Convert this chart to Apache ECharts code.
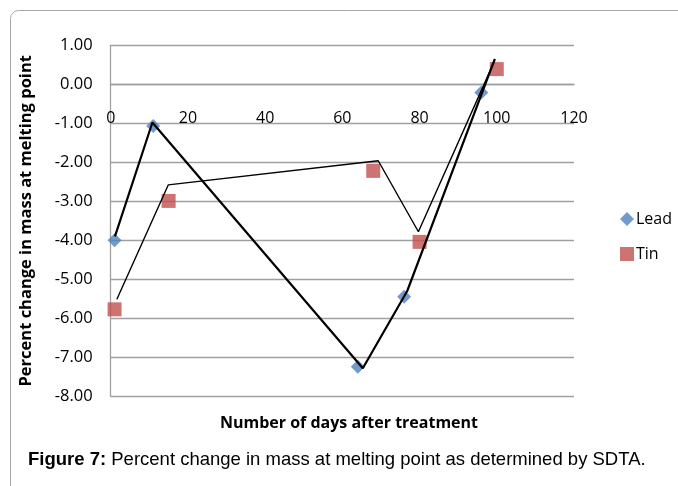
<!DOCTYPE html>
<html>
<head>
<meta charset="utf-8">
<script src="https://cdn.jsdelivr.net/npm/echarts@6/dist/echarts.min.js"></script>
<style>
html,body{margin:0;padding:0;background:#fff;}
#chart{width:678px;height:486px;}
</style>
</head>
<body>
<div id="chart"></div>
<script>
// Scatter data
var leadX = [1, 11, 64, 76, 96];
var leadY = [-4.00, -1.07, -7.24, -5.45, -0.21];
var tinX = [1, 15, 68, 80, 100];
var tinY = [-5.77, -2.99, -2.22, -4.04, 0.39];
// Black connecting (trend) lines as drawn in the figure
var leadLineX = [1.1, 10.8, 65.3, 76.8, 99.5];
var leadLineY = [-3.90, -0.98, -7.28, -5.30, 0.65];
var tinLineX = [1.6, 14.9, 69.3, 79.7, 99.5];
var tinLineY = [-5.51, -2.58, -1.96, -3.78, 0.62];
// Axis ticks
var xTicks = [0, 20, 40, 60, 80, 100, 120];
var yTicks = [1, 0, -1, -2, -3, -4, -5, -6, -7, -8];
var seriesNames = ['Lead', 'Tin'];

function pairs(xs, ys){ return xs.map(function(x,i){ return [x, ys[i]]; }); }

var FONT = '"Open Sans", "Noto Sans", sans-serif';
var ARIAL = '"Liberation Sans", Arial, sans-serif';
var GRID = '#a0a0a0';

var GRID_TOP = 45.3, GRID_BOTTOM = 89.7, H = 486;
var yMin = yTicks[yTicks.length - 1], yMax = yTicks[0];
// place the x axis where y = 0 (as in the original, axis crosses at zero)
var plotH = H - GRID_TOP - GRID_BOTTOM;
var zeroOffset = -plotH * (0 - yMin) / (yMax - yMin);

var chart = echarts.init(document.getElementById('chart'));
chart.setOption({
  animation: false,
  textStyle: { fontFamily: FONT },
  graphic: [{
    type: 'rect',
    shape: { x: 10.5, y: 10.5, width: 720, height: 520, r: 8 },
    style: { fill: 'none', stroke: '#a8a8a8', lineWidth: 1 },
    silent: true
  }],
  title: [{
    text: 'Number of days after treatment',
    left: 344, top: 410, textAlign: 'center',
    textStyle: { fontFamily: FONT, fontWeight: 'bold', fontSize: 16, color: '#000' }
  }, {
    text: '{b|Figure 7:}{n| Percent change in mass at melting point as determined by SDTA.}',
    left: 23, top: 445,
    textStyle: {
      fontWeight: 'normal',
      rich: {
        b: { fontFamily: ARIAL, fontWeight: 'bold', fontSize: 18.5, color: '#000' },
        n: { fontFamily: ARIAL, fontWeight: 'normal', fontSize: 18.5, color: '#000' }
      }
    }
  }],
  legend: {
    orient: 'vertical',
    left: 615, top: 206,
    itemGap: 19,
    itemWidth: 14, itemHeight: 14,
    textStyle: { fontFamily: FONT, fontSize: 16, color: '#000', padding: [0,0,0,-3] },
    data: [{ name: seriesNames[0], icon: 'diamond' }, { name: seriesNames[1], icon: 'rect' }]
  },
  grid: { left: 110.7, right: 104, top: GRID_TOP, bottom: GRID_BOTTOM, containLabel: false },
  xAxis: {
    type: 'value',
    min: xTicks[0], max: xTicks[xTicks.length - 1], interval: xTicks[1] - xTicks[0],
    offset: zeroOffset,
    axisLine: { show: true, onZero: false, lineStyle: { color: GRID, width: 1.3 } },
    axisTick: { show: false },
    splitLine: { show: false },
    axisLabel: { fontFamily: FONT, fontSize: 16, color: '#000', margin: 26 }
  },
  yAxis: {
    type: 'value',
    min: yMin, max: yMax, interval: 1,
    name: 'Percent change in mass at melting point',
    nameLocation: 'middle',
    nameGap: 76,
    nameTextStyle: { fontFamily: FONT, fontWeight: 'bold', fontSize: 16.5, color: '#000' },
    axisLine: { show: true, lineStyle: { color: GRID, width: 1.3 } },
    axisTick: { show: false },
    splitLine: { show: true, lineStyle: { color: GRID, width: 1.3 } },
    axisLabel: { fontFamily: FONT, fontSize: 16.5, color: '#000', margin: 18,
      formatter: function(v){ return v.toFixed(2); } }
  },
  series: [{
    name: seriesNames[0], type: 'scatter', symbol: 'diamond', symbolSize: 14,
    itemStyle: { color: '#4f81bd' }, data: pairs(leadX, leadY), z: 2
  }, {
    name: seriesNames[1], type: 'scatter', symbol: 'rect', symbolSize: 14,
    itemStyle: { color: '#c0504d' }, data: pairs(tinX, tinY), z: 2
  }, {
    name: 'leadLine', type: 'line', showSymbol: false, silent: true, z: 3,
    lineStyle: { color: '#000', width: 2.2 }, data: pairs(leadLineX, leadLineY)
  }, {
    name: 'tinLine', type: 'line', showSymbol: false, silent: true, z: 3,
    lineStyle: { color: '#000', width: 1.4 }, data: pairs(tinLineX, tinLineY)
  }]
});
</script>
</body>
</html>
